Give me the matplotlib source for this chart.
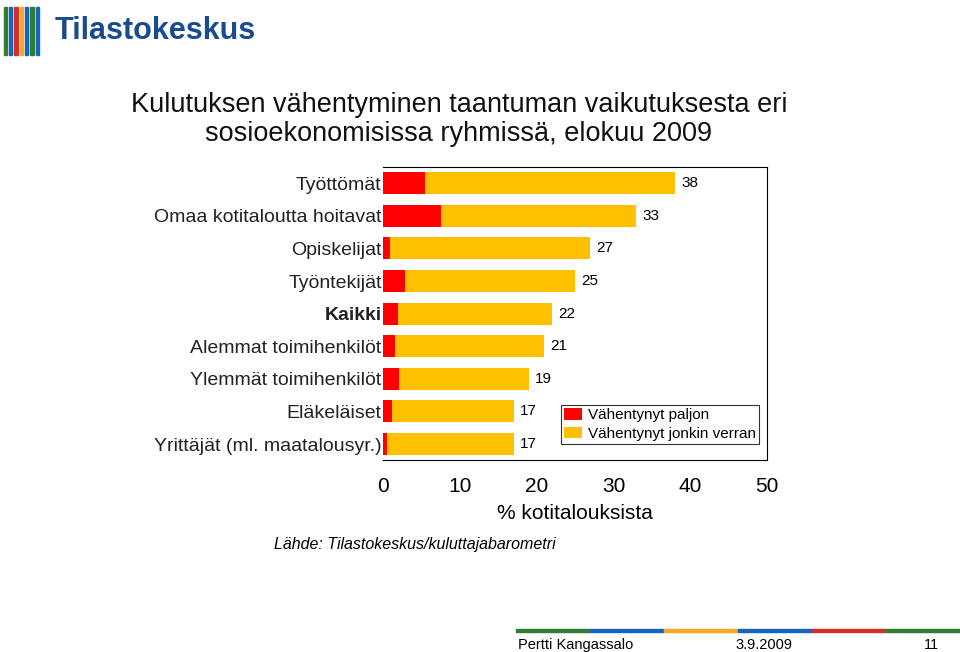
import matplotlib
matplotlib.use("Agg")
import matplotlib.pyplot as plt
from matplotlib.patches import Rectangle

plt.rcParams["font.family"] = "Liberation Sans"

categories = ["Työttömät", "Omaa kotitaloutta hoitavat", "Opiskelijat", "Työntekijät",
              "Kaikki", "Alemmat toimihenkilöt", "Ylemmät toimihenkilöt", "Eläkeläiset",
              "Yrittäjät (ml. maatalousyr.)"]
totals = [38, 33, 27, 25, 22, 21, 19, 17, 17]
paljon = [5.4, 7.6, 0.9, 2.9, 2.0, 1.6, 2.1, 1.2, 0.5]
jonkin = [t - p for t, p in zip(totals, paljon)]
xticks = [0, 10, 20, 30, 40, 50]

fig = plt.figure(figsize=(9.6, 6.52), dpi=100)
ax = fig.add_axes([0.399, 0.294, 0.400, 0.450])

y = list(range(len(categories)))[::-1]
ax.barh(y, paljon, height=0.68, color="#ff0000", label="Vähentynyt paljon")
ax.barh(y, jonkin, left=paljon, height=0.68, color="#ffc000", label="Vähentynyt jonkin verran")
for yi, t in zip(y, totals):
    ax.text(t + 1.9, yi, str(t), va="center", ha="center", fontsize=11)

ax.set_xlim(0, 50)
ax.set_ylim(-0.5, len(categories) - 0.5)
ax.set_xticks(xticks)
ax.set_xticklabels([str(v) for v in xticks], fontsize=15)
ax.tick_params(axis="x", length=0, pad=12)
ax.set_yticks(y)
ax.set_yticklabels(categories, fontsize=14, color="#222222")
ax.tick_params(axis="y", length=0, pad=1)
for lbl, c in zip(ax.get_yticklabels(), categories):
    if c == "Kaikki":
        lbl.set_fontweight("bold")
ax.spines["left"].set_visible(False)
ax.set_xlabel("% kotitalouksista", fontsize=15, labelpad=6)
leg = ax.legend(loc="lower right", fontsize=11, frameon=True, fancybox=False,
                edgecolor="black", handlelength=1.2, handleheight=0.8,
                borderpad=0.2, labelspacing=0.3, handletextpad=0.4,
                bbox_to_anchor=(1.0, 0.03))
leg.get_frame().set_linewidth(0.8)

fig.text(0.478, 0.817, "Kulutuksen vähentyminen taantuman vaikutuksesta eri\n"
         "sosioekonomisissa ryhmissä, elokuu 2009", fontsize=19.5, ha="center",
         va="center", linespacing=1.15, color="#111111", multialignment="center")
fig.text(0.285, 0.165, "Lähde: Tilastokeskus/kuluttajabarometri", fontsize=11.5,
         style="italic", ha="left", va="center")

# logo
stripe_colors = ["#2e7d32", "#1565c0", "#d32f2f", "#f9a825", "#1565c0", "#2e7d32", "#1565c0"]
for i, c in enumerate(stripe_colors):
    fig.patches.append(Rectangle((0.004 + i * 0.0055, 0.915), 0.0035, 0.075,
                                 transform=fig.transFigure, color=c))
fig.text(0.057, 0.953, "Tilastokeskus", fontsize=22, color="#1a4b8c",
         ha="left", va="center", fontweight="bold")

# footer
fcols = ["#2e7d32", "#1565c0", "#f9a825", "#1565c0", "#d32f2f", "#2e7d32"]
w = (1.0 - 0.537) / len(fcols)
for i, c in enumerate(fcols):
    fig.patches.append(Rectangle((0.537 + i * w, 0.030), w, 0.005,
                                 transform=fig.transFigure, color=c))
fig.text(0.540, 0.010, "Pertti Kangassalo", fontsize=10.5, ha="left", va="center")
fig.text(0.766, 0.010, "3.9.2009", fontsize=10.5, ha="left", va="center")
fig.text(0.970, 0.010, "11", fontsize=10.5, ha="center", va="center")

fig.savefig("out.png", dpi=100)
